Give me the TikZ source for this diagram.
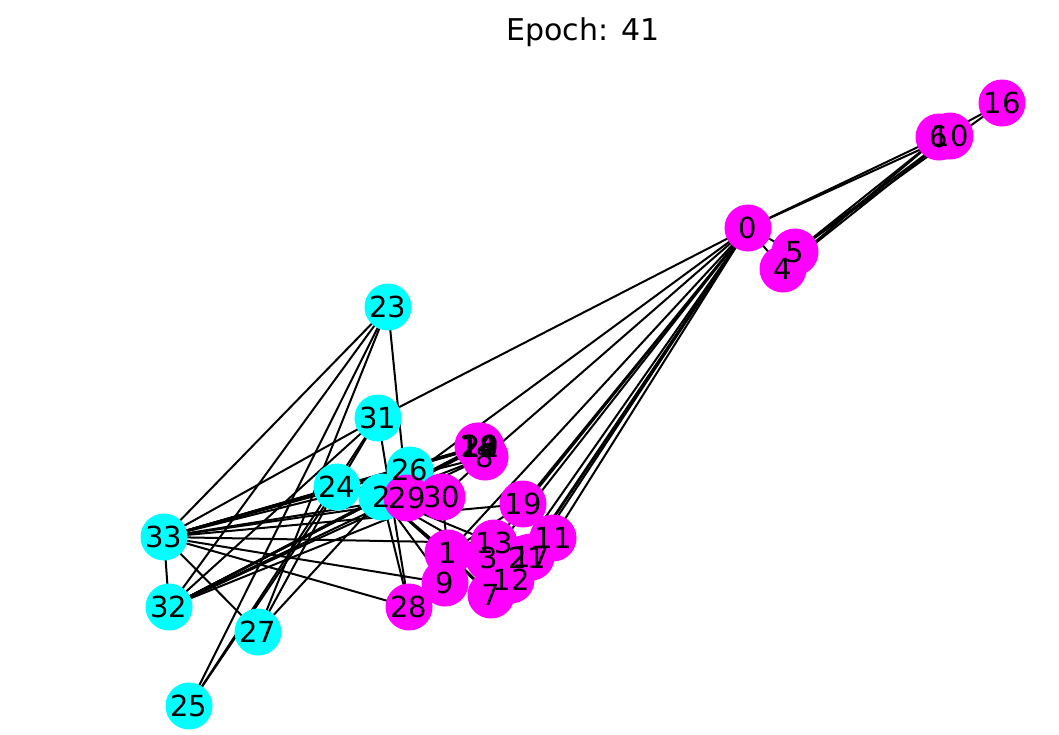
\documentclass[tikz,border=0pt]{standalone}
\usepackage{fontspec}
\setmainfont{DejaVu Sans}
\definecolor{ncyan}{RGB}{0,255,255}
\definecolor{nmag}{RGB}{255,0,255}
\begin{document}
\begin{tikzpicture}[x=1pt,y=-1pt,
  edge/.style={black,line width=2pt},
  vc/.style={circle,fill=ncyan,minimum size=47pt,inner sep=0pt},
  vm/.style={circle,fill=nmag,minimum size=47pt,inner sep=0pt},
  lab/.style={inner sep=0pt,font=\fontsize{29}{34}\selectfont},
  ttl/.style={inner sep=0pt,font=\fontsize{30}{36}\selectfont}]
\useasboundingbox (0,0) rectangle (1059,734);
% positions
\coordinate (p0) at (748,228);
\coordinate (p1) at (448,553);
\coordinate (p2) at (382,497);
\coordinate (p3) at (489,558);
\coordinate (p4) at (783,269);
\coordinate (p5) at (795,252);
\coordinate (p6) at (939,137);
\coordinate (p7) at (491,595);
\coordinate (p8) at (485,457);
\coordinate (p9) at (445,583);
\coordinate (p10) at (950,136);
\coordinate (p11) at (553,538);
\coordinate (p12) at (511,580);
\coordinate (p13) at (494,543);
\coordinate (p14) at (478,446);
\coordinate (p15) at (480,447);
\coordinate (p16) at (1002,103);
\coordinate (p17) at (531,557);
\coordinate (p18) at (479,447);
\coordinate (p19) at (523,504);
\coordinate (p20) at (480,446);
\coordinate (p21) at (527,558);
\coordinate (p22) at (481,447);
\coordinate (p23) at (388,307);
\coordinate (p24) at (337,487);
\coordinate (p25) at (189,706);
\coordinate (p26) at (410,470);
\coordinate (p27) at (258,632);
\coordinate (p28) at (409,607);
\coordinate (p29) at (407,498);
\coordinate (p30) at (442,497);
\coordinate (p31) at (378,418);
\coordinate (p32) at (169,607);
\coordinate (p33) at (164,537);
% edges
\foreach \a/\b in {0/1,0/2,0/3,0/4,0/5,0/6,0/7,0/8,0/10,0/11,0/12,0/13,0/17,0/19,0/21,0/31,
  1/2,1/3,1/7,1/13,1/17,1/19,1/21,1/30,
  2/3,2/7,2/8,2/9,2/13,2/27,2/28,2/32,
  3/7,3/12,3/13,4/6,4/10,5/6,5/10,5/16,6/16,
  8/30,8/32,8/33,9/33,13/33,14/32,14/33,15/32,15/33,18/32,18/33,19/33,
  20/32,20/33,22/32,22/33,23/25,23/27,23/29,23/32,23/33,24/25,24/27,24/31,
  25/31,26/29,26/33,27/33,28/31,28/33,29/32,29/33,30/32,30/33,31/32,31/33,32/33}
  \draw[edge] (p\a) -- (p\b);
% circles
\node[vm] (n0) at (p0) {};
\node[vm] (n1) at (p1) {};
\node[vc] (n2) at (p2) {};
\node[vm] (n3) at (p3) {};
\node[vm] (n4) at (p4) {};
\node[vm] (n5) at (p5) {};
\node[vm] (n6) at (p6) {};
\node[vm] (n7) at (p7) {};
\node[vm] (n8) at (p8) {};
\node[vm] (n9) at (p9) {};
\node[vm] (n10) at (p10) {};
\node[vm] (n11) at (p11) {};
\node[vm] (n12) at (p12) {};
\node[vm] (n13) at (p13) {};
\node[vm] (n14) at (p14) {};
\node[vm] (n15) at (p15) {};
\node[vm] (n16) at (p16) {};
\node[vm] (n17) at (p17) {};
\node[vm] (n18) at (p18) {};
\node[vm] (n19) at (p19) {};
\node[vm] (n20) at (p20) {};
\node[vm] (n21) at (p21) {};
\node[vm] (n22) at (p22) {};
\node[vc] (n23) at (p23) {};
\node[vc] (n24) at (p24) {};
\node[vc] (n25) at (p25) {};
\node[vc] (n26) at (p26) {};
\node[vc] (n27) at (p27) {};
\node[vm] (n28) at (p28) {};
\node[vm] (n29) at (p29) {};
\node[vm] (n30) at (p30) {};
\node[vc] (n31) at (p31) {};
\node[vc] (n32) at (p32) {};
\node[vc] (n33) at (p33) {};
% labels
\foreach \i in {0,...,33}
  \node[lab] (l\i) at (p\i) {\i};
\node[ttl] (title) at (583,32) {Epoch: 41};
\end{tikzpicture}
\end{document}
